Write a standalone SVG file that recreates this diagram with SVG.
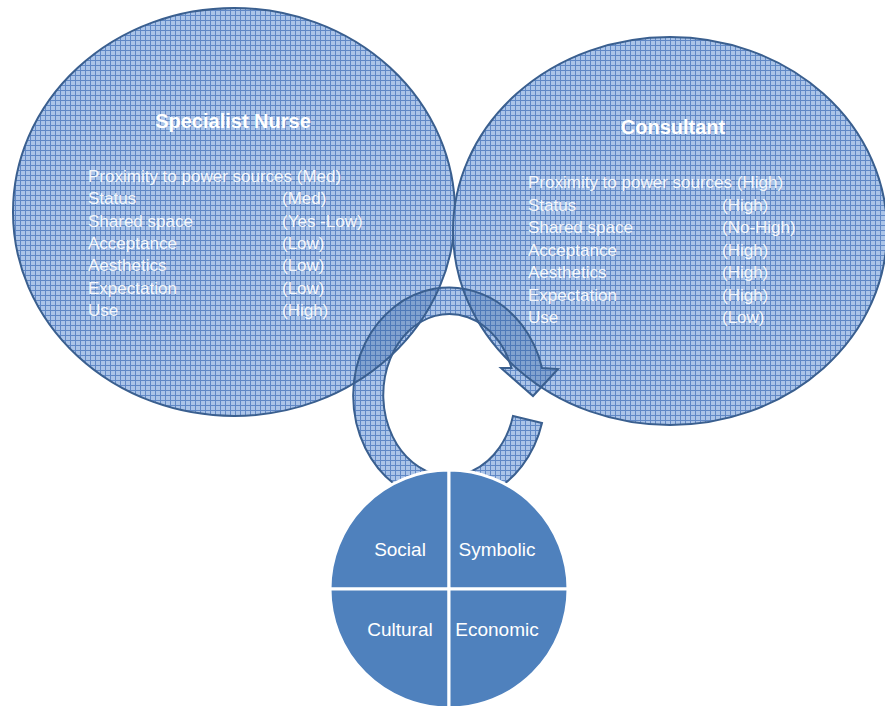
<svg xmlns="http://www.w3.org/2000/svg" width="885" height="706" viewBox="0 0 885 706">
  <defs>
    <pattern id="grid" width="5" height="5" patternUnits="userSpaceOnUse">
      <rect width="5" height="5" fill="#abc4e8"/>
      <path d="M0 0.5H5M0.5 0V5" stroke="#6088c6" stroke-width="1"/>
    </pattern>
    <clipPath id="arrowClip">
      <path d="M542 423 A96 108 0 1 1 542 368 L558 369 L533 396 L501 368 L511.5 368 A66 81 0 1 0 513 416 Z"/>
    </clipPath>
  </defs>
  <style>
    .bubble { fill: url(#grid); stroke: #3a5f8f; stroke-width: 2; }
    .outline { fill: none; stroke: #3a5f8f; stroke-width: 2; }
    .shade { fill: #2c5a9c; fill-opacity: 0.32; stroke: none; }
    .title { font-family: "Liberation Sans", Arial, sans-serif; font-weight: bold; font-size: 20px; fill: #ffffff; text-anchor: middle; }
    .item { font-family: "Liberation Sans", Arial, sans-serif; font-size: 17px; fill: #ffffff; fill-opacity: 0.92; }
    .quad { fill: #4f81bd; stroke: #ffffff; stroke-width: 3; }
    .qlabel { font-family: "Liberation Sans", Arial, sans-serif; font-size: 19px; fill: #ffffff; text-anchor: middle; }
    .cycle { fill: url(#grid); stroke: none; }
  </style>
  <rect width="885" height="706" fill="#ffffff"/>

  <g id="specialist-nurse">
    <ellipse class="bubble" cx="234" cy="212" rx="221" ry="204"/>
    <text class="title" x="233" y="128">Specialist Nurse</text>
    <g class="item">
      <text x="88" y="182">Proximity to power sources (Med)</text>
      <text x="88" y="204.3">Status</text><text x="282" y="204.3">(Med)</text>
      <text x="88" y="226.6">Shared space</text><text x="282" y="226.6">(Yes -Low)</text>
      <text x="88" y="248.9">Acceptance</text><text x="282" y="248.9">(Low)</text>
      <text x="88" y="271.2">Aesthetics</text><text x="282" y="271.2">(Low)</text>
      <text x="88" y="293.5">Expectation</text><text x="282" y="293.5">(Low)</text>
      <text x="88" y="315.8">Use</text><text x="282" y="315.8">(High)</text>
    </g>
  </g>

  <g id="consultant">
    <ellipse class="bubble" cx="670" cy="231" rx="217" ry="194"/>
    <text class="title" x="673" y="134">Consultant</text>
    <g class="item">
      <text x="528" y="188">Proximity to power sources (High)</text>
      <text x="528" y="210.5">Status</text><text x="722" y="210.5">(High)</text>
      <text x="528" y="233">Shared space</text><text x="722" y="233">(No-High)</text>
      <text x="528" y="255.5">Acceptance</text><text x="722" y="255.5">(High)</text>
      <text x="528" y="278">Aesthetics</text><text x="722" y="278">(High)</text>
      <text x="528" y="300.5">Expectation</text><text x="722" y="300.5">(High)</text>
      <text x="528" y="323">Use</text><text x="722" y="323">(Low)</text>
    </g>
  </g>

  <g id="connectors">
    <path class="cycle" d="M542 423 A96 108 0 1 1 542 368 L558 369 L533 396 L501 368 L511.5 368 A66 81 0 1 0 513 416 Z"/>
    <g clip-path="url(#arrowClip)">
      <ellipse class="shade" cx="234" cy="212" rx="221" ry="204"/>
      <ellipse class="shade" cx="670" cy="231" rx="217" ry="194"/>
      <ellipse class="outline" cx="234" cy="212" rx="221" ry="204"/>
      <ellipse class="outline" cx="670" cy="231" rx="217" ry="194"/>
    </g>
    <path class="outline" d="M542 423 A96 108 0 1 1 542 368 L558 369 L533 396 L501 368 L511.5 368 A66 81 0 1 0 513 416 Z"/>
  </g>

  <g id="capitals">
    <path class="quad" d="M449 589 L449 470 A119 119 0 0 0 330 589 Z"/>
    <path class="quad" d="M449 589 L568 589 A119 119 0 0 0 449 470 Z"/>
    <path class="quad" d="M449 589 L330 589 A119 119 0 0 0 449 708 Z"/>
    <path class="quad" d="M449 589 L449 708 A119 119 0 0 0 568 589 Z"/>
    <text class="qlabel" x="400" y="556">Social</text>
    <text class="qlabel" x="497" y="556">Symbolic</text>
    <text class="qlabel" x="400" y="636">Cultural</text>
    <text class="qlabel" x="497" y="636">Economic</text>
  </g>
</svg>
